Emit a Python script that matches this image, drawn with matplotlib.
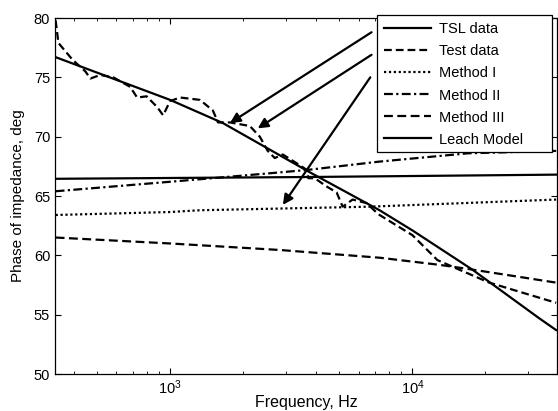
import numpy as np
import matplotlib
matplotlib.use('Agg')
import matplotlib.pyplot as plt
from matplotlib.patches import Rectangle

plt.rcParams['font.family'] = ['Liberation Sans', 'DejaVu Sans']
plt.rcParams['mathtext.fontset'] = 'custom'
plt.rcParams['mathtext.rm'] = 'Liberation Sans'
plt.rcParams['mathtext.it'] = 'Liberation Sans'

# TSL data
tsl_f = [337, 1000, 1650, 3770, 7318, 10000, 17660, 33340, 39180]
tsl_p = [76.7, 73.1, 71.15, 67.0, 63.8, 62.1, 58.8, 54.7, 53.7]

# measured test data
test_f = [337, 346, 395, 447, 469, 515, 583, 684, 731, 800, 884, 936,
          1000, 1099, 1328, 1502, 1577, 1766, 2000, 2133, 2345, 2529, 2704,
          2917, 3426, 3663, 3720, 3953, 4428, 4867, 5153, 5666, 6470, 7115,
          7318, 10000, 12680, 15180, 20750, 39180]
test_p = [79.8, 77.9, 76.5, 75.5, 74.9, 75.2, 75.0, 74.2, 73.3, 73.4, 72.5, 71.8,
          73.0, 73.3, 73.1, 72.2, 71.2, 71.2, 71.0, 70.9, 70.0, 68.8, 68.2,
          68.5, 67.6, 67.2, 66.5, 66.5, 65.8, 65.3, 64.1, 64.7, 64.4, 63.6,
          63.4, 61.7, 59.6, 58.9, 57.7, 56.0]

m1_f = [337, 1000, 1330, 6650, 39180]
m1_p = [63.4, 63.65, 63.8, 64.1, 64.7]

m2_f = [337, 1000, 2530, 3700, 7318, 17000, 39180]
m2_p = [65.4, 66.2, 66.9, 67.2, 67.9, 68.6, 68.8]

m3_f = [337, 1000, 2840, 7318, 12920, 17660, 39180]
m3_p = [61.5, 61.0, 60.45, 59.8, 59.2, 58.8, 57.7]

leach_f = [337, 3700, 39180]
leach_p = [66.45, 66.6, 66.8]

# arrows (tail, head) in data coords
arrows = [((6780, 78.8), (1766, 71.15)),
          ((6780, 76.9), (2300, 70.7)),
          ((6700, 75.0), (2920, 64.25))]

fig = plt.figure(figsize=(5.58, 4.11), dpi=100)
ax = fig.add_axes([55/558, 37/411, 502/558, 356/411])

lw = 1.6
ax.plot(tsl_f, tsl_p, color='k', lw=lw, ls='-', label='TSL data')
ax.plot(test_f, test_p, color='k', lw=lw, ls=(0, (3.5, 1.8)), label='Test data')
ax.plot(m1_f, m1_p, color='k', lw=lw, ls=(0, (1, 1.2)), label='Method I')
ax.plot(m2_f, m2_p, color='k', lw=lw, ls=(0, (4, 1.5, 1, 1.5)), label='Method II')
ax.plot(m3_f, m3_p, color='k', lw=lw, ls=(0, (4, 2)), label='Method III')
ax.plot(leach_f, leach_p, color='k', lw=lw, ls='-', label='Leach Model')

for tail, head in arrows:
    ax.annotate('', xy=head, xytext=tail,
                arrowprops=dict(arrowstyle='-|>', color='k', lw=1.6,
                                mutation_scale=15, shrinkA=0, shrinkB=0))

ax.set_xscale('log')
ax.set_xlim(335, 39500)
ax.set_ylim(50, 80)
ax.set_yticks([50, 55, 60, 65, 70, 75, 80])
ax.tick_params(direction='in', top=True, right=True, labelsize=10.5, which='both')
ax.tick_params(which='major', length=4)
ax.tick_params(which='minor', length=2.5)
for s in ax.spines.values():
    s.set_linewidth(0.9)

ax.set_xlabel('Frequency, Hz', fontsize=11.5, labelpad=-1.5)
ax.set_ylabel('Phase of impedance, deg', fontsize=11, labelpad=6)

# legend box (drawn separately, matlab style with extra room on the right)
box = Rectangle((0.641, 0.624), 0.349, 0.384, transform=ax.transAxes,
                facecolor='white', edgecolor='k', lw=0.9, clip_on=False, zorder=4)
ax.add_patch(box)
leg = ax.legend(loc='upper left', bbox_to_anchor=(0.641, 1.008), fontsize=10.5,
                handlelength=3.2, labelspacing=0.55, borderpad=0.5,
                borderaxespad=0, handletextpad=0.6, frameon=False)
leg.set_zorder(5)

fig.savefig('out.png', dpi=100)
